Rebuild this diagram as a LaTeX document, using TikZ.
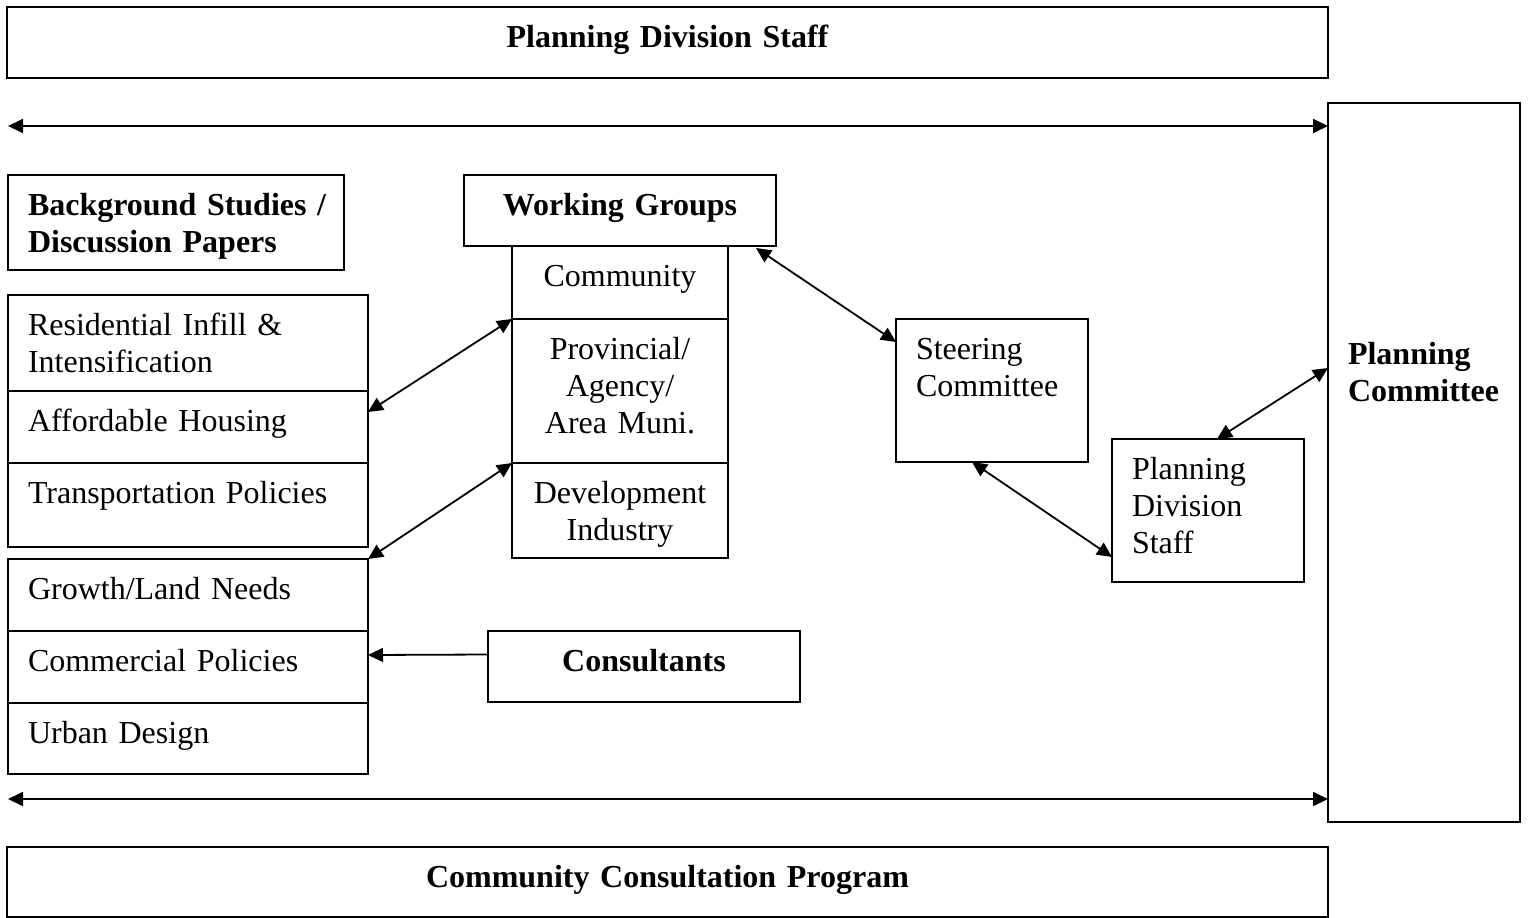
\documentclass[tikz,border=0pt]{standalone}
\usepackage{fontspec}
\setmainfont{Liberation Serif}
\usetikzlibrary{positioning, arrows.meta}

\begin{document}
\fontsize{32}{37}\selectfont
\begin{tikzpicture}[%
		x=1pt, y=-1pt,
		font=\fontsize{32}{37}\selectfont,
		>={Triangle[length=15pt,width=14pt]},
		cell/.style 2 args={
			rectangle,
			draw,
			black,
			line width=2pt,
			outer sep=0pt,
			inner xsep=20pt,
			inner ysep=0pt,
			anchor=north west,
			align=left,
			text width=#1-40pt,
			text height=40pt,
			text depth=#2-40pt
		},
		heading/.style={
			align=center,
			font=\fontsize{32}{37}\selectfont\bfseries
		},
		boldtext/.style={
			font=\fontsize{32}{37}\selectfont\bfseries
		},
		linkarrow/.style={
			line width=1.8pt,
			<->
		},
		feedarrow/.style={
			line width=1.8pt,
			->
		}]

		\useasboundingbox (0,0) rectangle (1529,918);

		% STAFF / CONSULTATION BARS

		\node (staffbar) [cell={1321}{71},heading] at (7,7) {Planning Division Staff};
		\node (consultbar) [cell={1321}{70},heading] at (7,847) {Community Consultation Program};
		\node (plancom) [cell={192}{719},boldtext,text height=261pt,text depth=458pt] at (1328,103) {Planning\\Committee};

		% BACKGROUND STUDIES

		\node (studies) [cell={336}{95},boldtext] at (8,175) {\mbox{Background Studies /}\\Discussion Papers};
		\node (infill) [cell={360}{96}] at (8,295) {Residential Infill \&\\Intensification};
		\node (housing) [cell={360}{72}, below=0pt of infill] {Affordable Housing};
		\node (transport) [cell={360}{84}, below=0pt of housing] {Transportation Policies};

		\node (growth) [cell={360}{72}] at (8,559) {Growth/Land Needs};
		\node (commercial) [cell={360}{72}, below=0pt of growth] {Commercial Policies};
		\node (urban) [cell={360}{71}, below=0pt of commercial] {Urban Design};

		% WORKING GROUPS

		\node (wg) [cell={312}{71},heading] at (464,175) {Working Groups};
		\node (community) [cell={216}{73},align=center, below=0pt of wg] {Community};
		\node (provincial) [cell={216}{144},align=center, below=0pt of community] {Provincial/\\Agency/\\Area Muni.};
		\node (devel) [cell={216}{95},align=center, below=0pt of provincial] {Development\\Industry};

		\node (consult) [cell={312}{71},heading] at (488,631) {Consultants};

		% COMMITTEES

		\node (steer) [cell={192}{143}] at (896,319) {Steering\\Committee};
		\node (pds) [cell={192}{143}] at (1112,439) {Planning\\Division\\Staff};

		% LINKS

		\coordinate (topleft) at (8,126);
		\coordinate (botleft) at (8,799);
		\draw[linkarrow] (topleft) -- (topleft -| plancom.west);
		\draw[linkarrow] (botleft) -- (botleft -| plancom.west);

		\draw[linkarrow] ([yshift=-21pt]housing.north east) -- (provincial.north west);
		\draw[linkarrow] (growth.north east) -- (devel.north west);
		\draw[linkarrow] ([xshift=-20pt,yshift=-2pt]wg.south east) -- ([yshift=-23pt]steer.north west);
		\draw[linkarrow] ([xshift=76pt]steer.south west) -- ([yshift=-118pt]pds.north west);
		\draw[linkarrow] ([xshift=105pt]pds.north west) -- ([yshift=-265pt]plancom.north west);
		\draw[feedarrow] ([yshift=12pt]consult.west) -- ([yshift=12pt]commercial.east);
\end{tikzpicture}
\end{document}
